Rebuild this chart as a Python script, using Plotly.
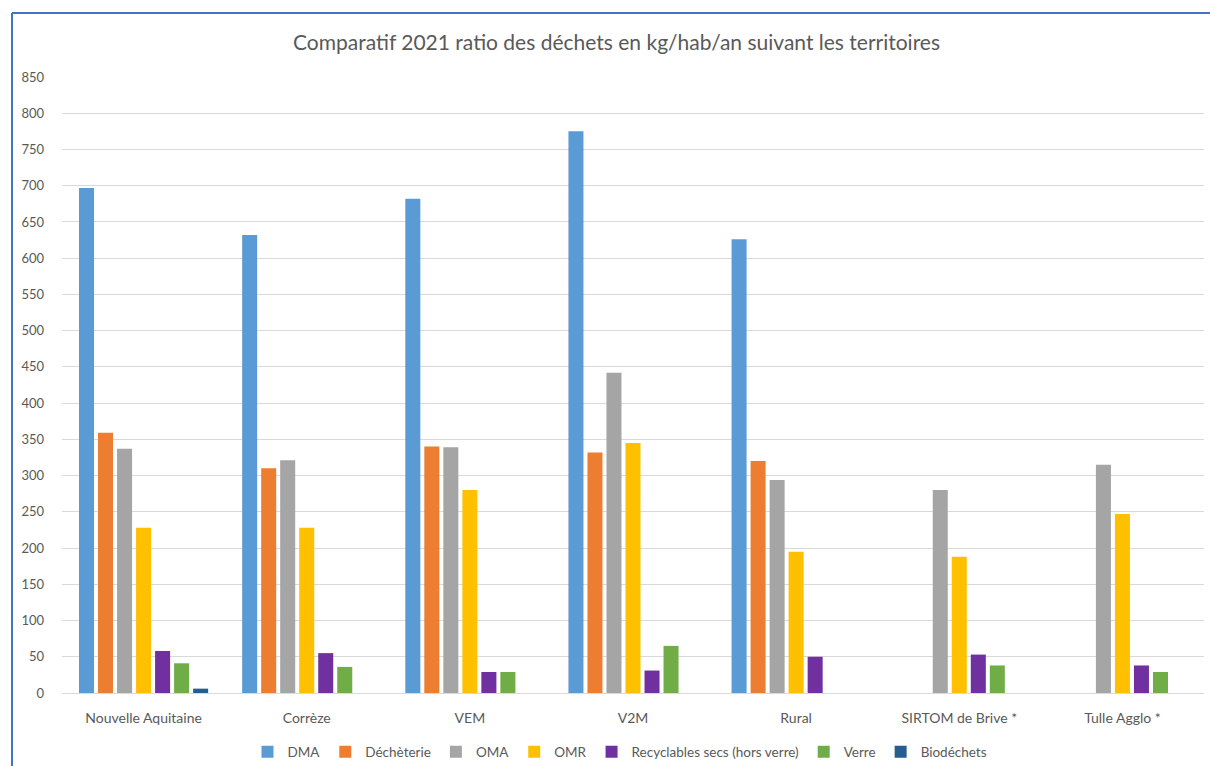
import plotly.graph_objects as go

categories = ["Nouvelle Aquitaine", "Corrèze", "VEM", "V2M", "Rural", "SIRTOM de Brive *", "Tulle Agglo *"]

dma = [697, 632, 682, 775, 626, None, None]
decheterie = [359, 310, 340, 332, 320, None, None]
oma = [337, 321, 339, 442, 294, 280, 315]
omr = [228, 228, 280, 345, 195, 188, 247]
recyclables = [58, 55, 29, 31, 50, 53, 38]
verre = [41, 36, 29, 65, None, 38, 29]
biodechets = [6, None, None, None, None, None, None]

series_names = ["DMA", "Déchèterie", "OMA", "OMR", "Recyclables secs (hors verre)", "Verre", "Biodéchets"]
series_values = [dma, decheterie, oma, omr, recyclables, verre, biodechets]
series_colors = ["#5B9BD5", "#ED7D31", "#A5A5A5", "#FFC000", "#7030A0", "#70AD47", "#255E91"]

FONT = "Lato, Carlito, 'Liberation Sans Narrow', sans-serif"
TXT = "#595959"

fig = go.Figure()
for name, vals, col in zip(series_names, series_values, series_colors):
    fig.add_trace(go.Bar(
        x=categories, y=vals, name=name,
        marker=dict(color=col, line=dict(width=0)),
    ))

W, H = 1210, 766
L, R, T, B = 62, 6, 77, 73
pw, ph = W - L - R, H - T - B

def px_x(x):
    return (x - L) / pw

def px_y(y):
    return (H - B - y) / ph

fig.update_layout(
    width=W, height=H,
    margin=dict(l=L, r=R, t=T, b=B, autoexpand=False),
    paper_bgcolor="white", plot_bgcolor="white",
    barmode="group", bargap=0.184, bargroupgap=0.21,
    font=dict(family=FONT, color=TXT, size=13),
    showlegend=True,
    legend=dict(orientation="h", x=px_x(620), xanchor="center", y=px_y(752), yanchor="middle",
                font=dict(size=13.5, color=TXT), itemsizing="constant", traceorder="normal",
                itemwidth=30),
    xaxis=dict(showgrid=False, showline=True, linecolor="#D9D9D9", linewidth=1, automargin=False,
               ticks="", tickfont=dict(size=14, color=TXT), ticklabelstandoff=12),
    yaxis=dict(range=[0, 850], dtick=50, showgrid=True, gridcolor="#D9D9D9", gridwidth=1,
               zeroline=False, showline=False, ticks="", tickfont=dict(size=13, color=TXT),
               ticklabelstandoff=17, automargin=False),
    annotations=[dict(
        text="Comparatif 2021 ratio des déchets en kg/hab/an suivant les territoires",
        xref="paper", yref="paper", x=px_x(616), y=px_y(42), xanchor="center", yanchor="middle",
        showarrow=False, font=dict(size=21, color=TXT, family=FONT))],
    shapes=[
        dict(type="line", xref="paper", yref="paper", x0=px_x(12), x1=px_x(1212),
             y0=px_y(13), y1=px_y(13), line=dict(color="#4472C4", width=2)),
        dict(type="line", xref="paper", yref="paper", x0=px_x(12), x1=px_x(12),
             y0=px_y(13), y1=px_y(770), line=dict(color="#4472C4", width=2)),
    ],
)

fig.write_html("out.html")
